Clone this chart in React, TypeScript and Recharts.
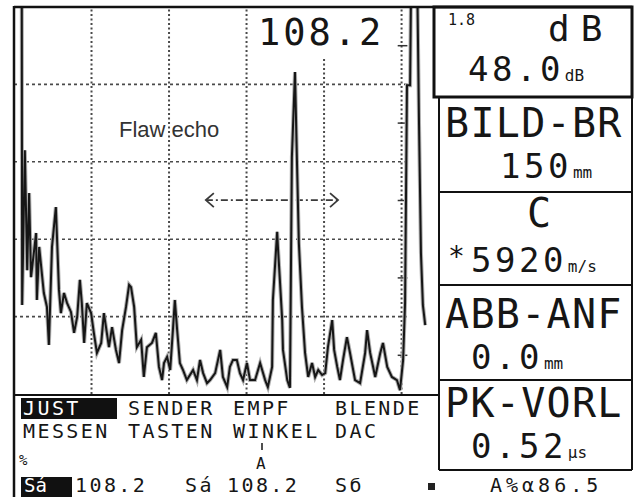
import {
  ComposedChart,
  Line,
  ReferenceLine,
  XAxis,
  YAxis,
} from "recharts";

// A-scan trace: sound path in % of screen width, echo height in % of screen height
const echoTime = [
  2.0, 2.1, 2.8, 3.4, 3.9, 4.4, 5.7, 5.9, 6.5, 7.7, 8.5, 9.0, 9.8, 10.8, 11.6,
  12.1, 12.9, 13.7, 14.7, 15.5, 16.3, 17.0, 17.5, 18.1, 18.8, 19.9, 20.6, 21.4,
  22.5, 23.2, 24.5, 25.3, 26.3, 27.1, 27.9, 28.9, 29.7, 30.2, 31.0, 31.7, 32.8,
  33.5, 34.3, 35.6, 36.6, 37.4, 38.2, 38.7, 39.5, 40.3, 41.0, 41.5, 42.1, 42.8,
  43.6, 44.6, 45.4, 46.2, 47.2, 48.0, 48.8, 49.8, 50.6, 51.9, 53.2, 53.9, 55.0,
  55.7, 56.5, 57.5, 58.3, 59.1, 60.1, 60.9, 62.2, 63.5, 64.8, 65.5, 66.6, 66.8,
  67.9, 68.1, 68.6, 69.2, 69.4, 70.5, 71.2, 71.7, 72.5, 73.0, 73.5, 74.3, 75.1,
  75.9, 76.9, 77.7, 78.5, 79.5, 80.3, 81.0, 82.1, 82.6, 83.4, 84.1, 84.9, 85.9,
  86.7, 88.0, 89.3, 90.6, 91.1, 91.9, 93.2, 94.5, 95.2, 96.3, 97.5, 98.8, 99.6,
  100.4, 100.9, 101.4, 102.2, 102.5, 103.2, 104.0, 104.5, 105.0, 105.5, 106.1,
];
const echoAmplitude = [
  110, 23.0, 63.0, 32.0, 51.9, 30.2, 41.6, 24.3, 38.0, 26.1, 22.5, 12.7, 38.0,
  48.3, 26.9, 20.9, 26.1, 23.5, 21.2, 15.8, 19.9, 29.5, 23.5, 13.2, 23.5, 20.9,
  15.8, 10.6, 13.2, 20.9, 12.1, 17.3, 11.4, 8.0, 16.5, 22.5, 28.2, 27.6, 22.5,
  12.1, 14.0, 4.4, 12.1, 13.2, 15.8, 7.0, 3.6, 8.0, 9.6, 6.2, 16.5, 24.3, 16.5,
  8.0, 6.2, 3.6, 4.9, 6.2, 3.6, 8.8, 5.4, 2.8, 3.6, 5.4, 11.4, 4.4, 1.8, 7.0,
  8.8, 8.8, 5.4, 3.6, 8.0, 3.6, 3.6, 8.0, 3.6, 1.8, 7.0, 24.3, 41.9, 38.0, 29.5,
  19.1, 11.4, 3.6, 1.6, 61.2, 83.2, 60.5, 39.0, 22.5, 10.6, 4.4, 8.0, 4.4, 6.2,
  4.9, 5.4, 12.1, 19.1, 11.4, 7.0, 3.6, 8.8, 14.7, 10.6, 3.6, 2.8, 10.6, 16.5,
  10.6, 4.4, 10.6, 13.2, 7.0, 4.4, 3.6, 1.0, 8.8, 23.5, 79.8, 79.8, 110, 110,
  110, 70.0, 36.4, 23.0, 17.8,
];

const gridLevels = [20, 40, 60, 80];
const gridDivisions = [20, 40, 60, 100];
const halfDivisionMarks = [10, 30, 50, 70, 90];

const gateReading = "108.2";
const flawLabel = "Flaw echo";

const softKeysTop = ["JUST", "SENDER", "EMPF", "BLENDE"];
const softKeysBottom = ["MESSEN", "TASTEN", "WINKEL", "DAC"];
const softKeyX = [23, 128, 233, 335];

const gainStep = "1.8";
const gainValue = "48.0";
const panelLabels = ["BILD-BR", "C", "ABB-ANF", "PK-VORL"];
const panelValues = ["150", "5920", "0.0", "0.52"];
const panelUnits = ["mm", "m/s", "mm", "µs"];

const statusLine = ["Sá", "108.2", "Sá", "108.2", "Sб", "A%α86.5"];

const echoData = echoTime.map((t, i) => ({ t, amp: echoAmplitude[i] }));

const MONO = "'DejaVu Sans Mono', monospace";
const INK = "#161616";
const VALUE_ADVANCE = 34 * 0.602 + 3.5;

function DoubleArrow(props: any) {
  const { x1, y1, x2, y2 } = props;
  return (
    <g stroke="#3a3a3a" fill="none">
      <line x1={x1} y1={y1} x2={x2} y2={y2} strokeWidth={1.6} strokeDasharray="7 3 2 3" />
      <polyline points={`${x1 + 8},${y1 - 7} ${x1},${y1} ${x1 + 8},${y1 + 7}`} strokeWidth={1.8} />
      <polyline points={`${x2 - 8},${y2 - 7} ${x2},${y2} ${x2 - 8},${y2 + 7}`} strokeWidth={1.8} />
    </g>
  );
}

export default function App() {
  const labelBase = [137, 227, 328, 417];
  const valueBase = [178, 272, 369, 458];
  const valueX = [500, 471, 471, 471];
  const keyFont = { fontSize: 20, letterSpacing: 2.4 };
  const labelFont = { fontSize: 40, letterSpacing: 1.3 };
  const valueFont = { fontSize: 34, letterSpacing: 3.5 };

  return (
    <div style={{ position: "absolute", left: 0, top: 0, width: 640, height: 497, background: "#fff" }}>
      <ComposedChart
        width={640}
        height={497}
        data={echoData}
        margin={{ top: 7, left: 14, right: 202, bottom: 103 }}
      >
        <XAxis type="number" dataKey="t" domain={[0, 109.4]} allowDataOverflow hide />
        <YAxis type="number" domain={[0, 100]} allowDataOverflow hide />
        {gridLevels.map((y) => (
          <ReferenceLine
            key={`h${y}`}
            segment={[{ x: 0, y }, { x: 101.5, y }]}
            stroke="#4a4a4a"
            strokeWidth={1.6}
            strokeDasharray="3 3"
          />
        ))}
        {gridDivisions.map((x) => (
          <ReferenceLine key={`v${x}`} x={x} stroke="#4a4a4a" strokeWidth={2} strokeDasharray="2 2.5" />
        ))}
        <ReferenceLine
          segment={[{ x: 80, y: 0 }, { x: 80, y: 86.8 }]}
          stroke="#4a4a4a"
          strokeWidth={2}
          strokeDasharray="2 2.5"
        />
        {halfDivisionMarks.map((y) => (
          <ReferenceLine key={`m${y}`} segment={[{ x: 99, y }, { x: 101.5, y }]} stroke="#333" strokeWidth={1.5} />
        ))}
        <ReferenceLine
          segment={[{ x: 49.5, y: 50.1 }, { x: 83.6, y: 50.1 }]}
          shape={DoubleArrow}
        />
        <Line
          type="linear"
          dataKey="amp"
          stroke="#b0b0b0"
          strokeWidth={4}
          dot={false}
          activeDot={false}
          isAnimationActive={false}
        />
        <Line
          type="linear"
          dataKey="amp"
          stroke={INK}
          strokeWidth={2}
          dot={false}
          activeDot={false}
          isAnimationActive={false}
        />
      </ComposedChart>

      <svg
        width={640}
        height={497}
        style={{ position: "absolute", left: 0, top: 0, pointerEvents: "none" }}
        fontFamily={MONO}
        fill={INK}
      >
        {/* frame */}
        <g stroke="#111" fill="none">
          <line x1={14} y1={7} x2={632} y2={7} strokeWidth={2.5} />
          <line x1={14} y1={6} x2={14} y2={497} strokeWidth={2.5} />
          <line x1={14} y1={395} x2={438} y2={395} strokeWidth={2} />
          <rect x={434} y={7} width={198} height={90} strokeWidth={3} />
          <line x1={439} y1={97} x2={439} y2={470} strokeWidth={2} />
          <line x1={632} y1={97} x2={632} y2={470} strokeWidth={2} />
          <line x1={439} y1={192} x2={632} y2={192} strokeWidth={2} />
          <line x1={439} y1={285} x2={632} y2={285} strokeWidth={2} />
          <line x1={439} y1={380} x2={632} y2={380} strokeWidth={2} />
          <line x1={439} y1={470} x2={632} y2={470} strokeWidth={2} />
        </g>

        {/* gate reading and annotation */}
        <text x={258} y={45} fontSize={37} letterSpacing={3}>{gateReading}</text>
        <text x={119} y={137} fontSize={22} fontFamily="'Liberation Sans', Arial, sans-serif" fill="#333">
          {flawLabel}
        </text>

        {/* right panel */}
        <text x={448} y={25} fontSize={15}>{gainStep}</text>
        <text x={548} y={41} fontSize={36} letterSpacing={11}>dB</text>
        <text x={468} y={81} {...valueFont}>{gainValue}</text>
        <text x={468 + gainValue.length * VALUE_ADVANCE + 1} y={81} fontSize={16}>dB</text>
        {panelLabels.map((label, i) => (
          <text key={label} x={label.length === 1 ? 527 : 445} y={labelBase[i]} {...labelFont}>
            {label}
          </text>
        ))}
        <text x={448} y={266} fontSize={28}>*</text>
        {panelValues.map((v, i) => (
          <g key={`pv${i}`}>
            <text x={valueX[i]} y={valueBase[i]} {...valueFont}>{v}</text>
            <text x={valueX[i] + v.length * VALUE_ADVANCE + 1} y={valueBase[i]} fontSize={16}>
              {panelUnits[i]}
            </text>
          </g>
        ))}

        {/* soft keys */}
        <rect x={21} y={398} width={96} height={21} fill="#111" />
        {softKeysTop.map((k, i) => (
          <text key={k} x={softKeyX[i]} y={415} {...keyFont} fill={i === 0 ? "#fff" : INK}>
            {k}
          </text>
        ))}
        {softKeysBottom.map((k, i) => (
          <text key={k} x={softKeyX[i]} y={438} {...keyFont}>
            {k}
          </text>
        ))}
        <text x={19} y={465} fontSize={14}>%</text>
        <line x1={262} y1={443} x2={262} y2={450} stroke={INK} strokeWidth={1.5} />
        <text x={256} y={469} fontSize={16}>A</text>

        {/* status line */}
        <rect x={21} y={477} width={51} height={20} fill="#111" />
        <text x={24} y={492} fontSize={19} fill="#fff">{statusLine[0]}</text>
        <text x={75} y={492} {...keyFont}>{statusLine[1]}</text>
        <text x={185} y={492} {...keyFont}>{statusLine[2]}</text>
        <text x={227} y={492} {...keyFont}>{statusLine[3]}</text>
        <text x={335} y={492} {...keyFont}>{statusLine[4]}</text>
        <rect x={428} y={483} width={7} height={7} fill="#222" />
        <text x={490} y={492} fontSize={20} letterSpacing={4}>{statusLine[5]}</text>
      </svg>
    </div>
  );
}
